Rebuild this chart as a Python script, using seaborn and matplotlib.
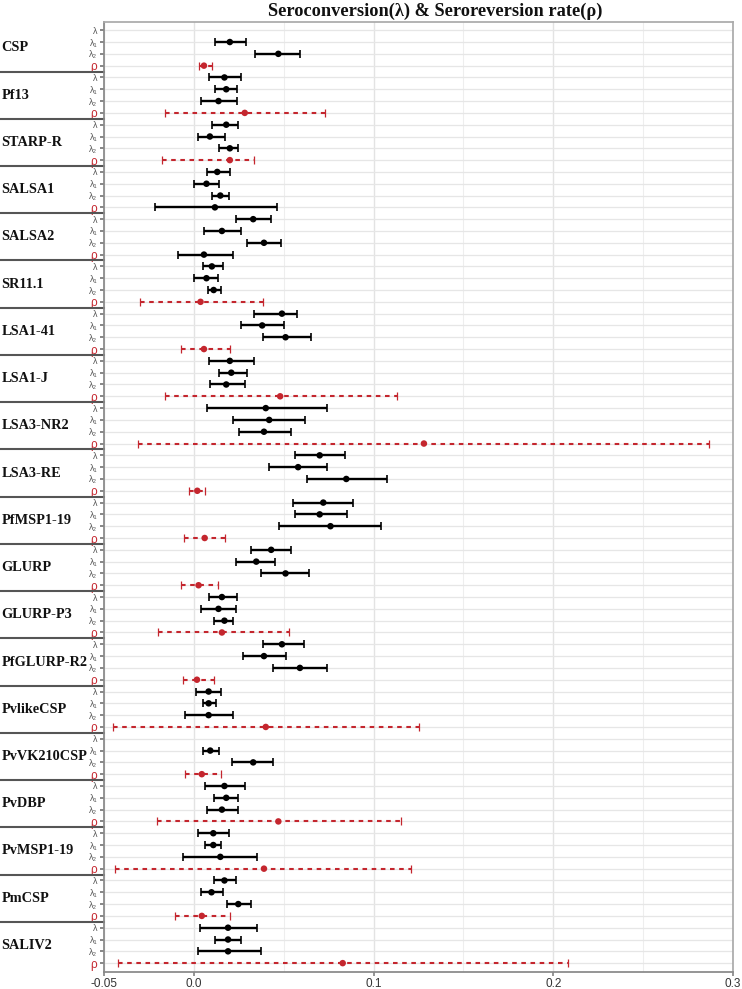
import numpy as np
import pandas as pd
import matplotlib
matplotlib.use("Agg")
import matplotlib.pyplot as plt
import seaborn as sns

antigens = ["CSP", "Pf13", "STARP-R", "SALSA1", "SALSA2", "SR11.1", "LSA1-41",
            "LSA1-J", "LSA3-NR2", "LSA3-RE", "PfMSP1-19", "GLURP", "GLURP-P3",
            "PfGLURP-R2", "PvlikeCSP", "PvVK210CSP", "PvDBP", "PvMSP1-19",
            "PmCSP", "SALIV2"]
rates = ["λ", "λ₁", "λ₂", "ρ"]
nan = np.nan

# seroconversion rate λ (estimate, lower, upper)
lam_est = [nan, 0.017, 0.018, 0.013, 0.033, 0.010, 0.049, 0.020, 0.040, 0.070,
           0.072, 0.043, 0.0156, 0.049, 0.0082, nan, 0.017, 0.0108, 0.017, 0.019]
lam_lo = [nan, 0.0083, 0.0102, 0.0074, 0.0233, 0.005, 0.0333, 0.0083, 0.0074, 0.0565,
          0.055, 0.0319, 0.0083, 0.0383, 0.0011, nan, 0.006, 0.0022, 0.011, 0.0032]
lam_hi = [nan, 0.026, 0.0248, 0.0202, 0.043, 0.016, 0.0572, 0.0332, 0.074, 0.0839,
          0.0883, 0.054, 0.0239, 0.061, 0.015, nan, 0.0283, 0.0193, 0.0232, 0.035]

# λ1
lam1_est = [0.020, 0.018, 0.0089, 0.007, 0.0156, 0.007, 0.038, 0.0208, 0.0419, 0.058,
            0.070, 0.0347, 0.0137, 0.039, 0.0082, 0.0091, 0.018, 0.0108, 0.0098, 0.019]
lam1_lo = [0.012, 0.012, 0.0022, 0.0002, 0.0058, 0.0002, 0.026, 0.0139, 0.022, 0.042,
           0.0565, 0.0233, 0.0039, 0.0272, 0.005, 0.005, 0.011, 0.006, 0.0039, 0.012]
lam1_hi = [0.029, 0.024, 0.0174, 0.014, 0.026, 0.0132, 0.050, 0.0293, 0.062, 0.074,
           0.085, 0.045, 0.0232, 0.051, 0.0122, 0.0139, 0.0248, 0.015, 0.016, 0.026]

# λ2
lam2_est = [0.047, 0.0137, 0.020, 0.0147, 0.039, 0.011, 0.051, 0.018, 0.039, 0.0848,
            0.076, 0.051, 0.017, 0.059, 0.0082, 0.033, 0.0156, 0.0147, 0.0247, 0.019]
lam2_lo = [0.034, 0.0039, 0.0139, 0.0102, 0.0293, 0.0076, 0.0386, 0.0091, 0.025, 0.063,
           0.0474, 0.0372, 0.011, 0.0443, -0.0052, 0.0211, 0.0074, -0.0061, 0.0183, 0.0022]
lam2_hi = [0.059, 0.024, 0.0248, 0.0193, 0.0483, 0.015, 0.065, 0.0283, 0.054, 0.1074,
           0.104, 0.064, 0.022, 0.074, 0.022, 0.044, 0.0248, 0.035, 0.032, 0.0374]

# seroreversion rate ρ
rho_est = [0.0056, 0.0283, 0.020, 0.0117, 0.0056, 0.0037, 0.0056, 0.048, 0.128, 0.0019,
           0.006, 0.0026, 0.0156, 0.0017, 0.040, 0.0044, 0.047, 0.039, 0.0044, 0.0828]
rho_lo = [0.003, -0.016, -0.018, -0.0217, -0.009, -0.030, -0.0072, -0.016, -0.031, -0.0026,
          -0.0053, -0.0072, -0.0198, -0.0061, -0.045, -0.0052, -0.0207, -0.044, -0.0107, -0.042]
rho_hi = [0.010, 0.073, 0.0333, 0.0465, 0.022, 0.0386, 0.020, 0.113, 0.2865, 0.006,
          0.0174, 0.0132, 0.053, 0.011, 0.125, 0.015, 0.1154, 0.121, 0.020, 0.208]
rho_solid = ["SALSA1", "SALSA2"]

ests = [lam_est, lam1_est, lam2_est, rho_est]
los = [lam_lo, lam1_lo, lam2_lo, rho_lo]
his = [lam_hi, lam1_hi, lam2_hi, rho_hi]

records = []
for i, ag in enumerate(antigens):
    for j, r in enumerate(rates):
        kind = "red" if (r == "ρ" and ag not in rho_solid) else "black"
        records.append(dict(antigen=ag, rate=r, row=4 * i + j, est=ests[j][i],
                            lo=los[j][i], hi=his[j][i], kind=kind))
df = pd.DataFrame(records)

sns.set_theme(style="white")
plt.rcParams["font.family"] = ["Liberation Sans", "DejaVu Sans"]

RED = "#c4262e"
fig, ax = plt.subplots(figsize=(7.42, 9.89), dpi=100)
fig.subplots_adjust(left=0.1402, right=0.9879, bottom=0.0172, top=0.9778)

# grid
ax.set_xlim(-0.05, 0.3)
ax.set_xticks([-0.05, 0.0, 0.1, 0.2, 0.3])
ax.set_xticklabels(["-0.05", "0.0", "0.1", "0.2", "0.3"])
ax.set_xticks([0.05, 0.15, 0.25], minor=True)
ax.grid(axis="x", which="major", color="#e3e3e3", lw=1.0)
ax.grid(axis="x", which="minor", color="#eeeeee", lw=0.8)
ax.set_yticks(df["row"])
ax.set_yticklabels(df["rate"])
ax.grid(axis="y", color="#e6e6e6", lw=0.9)
ax.set_axisbelow(True)

# intervals
d = df.dropna()
blk = d[d["kind"] == "black"]
ax.errorbar(blk["est"], blk["row"], xerr=[blk["est"] - blk["lo"], blk["hi"] - blk["est"]],
            fmt="none", ecolor="black", elinewidth=1.7, capsize=3.2, capthick=1.2, zorder=2)
red = d[d["kind"] == "red"]
eb = ax.errorbar(red["est"], red["row"], xerr=[red["est"] - red["lo"], red["hi"] - red["est"]],
                 fmt="none", ecolor=RED, elinewidth=1.5, capsize=3.2, capthick=0.9, zorder=2)
eb[2][0].set_linestyle((0, (2.2, 2.2)))
for cap in eb[1]:
    cap.set_color("#d0616a")

sns.scatterplot(data=d, x="est", y="row", hue="kind", palette={"black": "black", "red": RED},
                s=22, edgecolor="none", legend=False, ax=ax, zorder=3)

ax.set_ylim(79.75, -0.7)
ax.set_xlabel("")
ax.set_ylabel("")

ax.tick_params(axis="x", length=3, color="#888", labelsize=8.5, labelcolor="#333", pad=1, bottom=True)
ax.tick_params(axis="y", length=3, color="#777", labelsize=6.5, labelcolor="#555", pad=2, left=True)
for lab in ax.get_yticklabels():
    if lab.get_text() == "ρ":
        lab.set_color(RED)
        lab.set_fontsize(8.5)

for side in ["left", "bottom"]:
    ax.spines[side].set_color("#888")
for side in ["top", "right"]:
    ax.spines[side].set_color("#aaa")

# group labels and separators
ytr = ax.get_yaxis_transform()
for i, ag in enumerate(antigens):
    ax.text(-0.163, 4 * i + 1.5, ag, transform=ytr, ha="left", va="center",
            fontfamily="Liberation Serif", fontweight="bold", fontsize=10.3, color="#111")
    if i > 0:
        ax.plot([-0.17, 0], [4 * i - 0.5, 4 * i - 0.5], transform=ytr, clip_on=False,
                color="#555", lw=1.5)

fig.text(435 / 742, 1 - 11 / 989, "Seroconversion(λ) & Seroreversion rate(ρ)",
         ha="center", va="center", fontfamily="Liberation Serif", fontweight="bold",
         fontsize=13.2, color="#111")

fig.savefig("out.png", dpi=100)
